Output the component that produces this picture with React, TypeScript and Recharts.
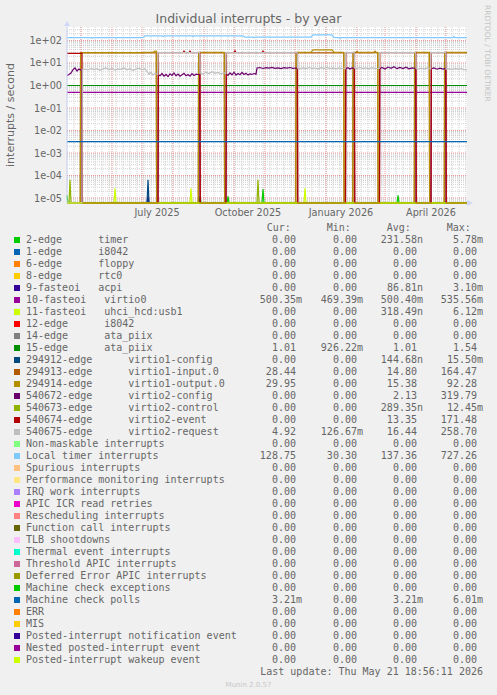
import React from "react";
import { LineChart, Line, XAxis, YAxis, CartesianGrid } from "recharts";

// y range of the log axis
const YMIN = 6e-6;
const YMAX = 398;

const yTicks = [1e2, 1e1, 1, 1e-1, 1e-2, 1e-3, 1e-4, 1e-5];
// x is in days from the left edge of the graph (1 px = 1 day)
const xTicks = [90, 181, 274, 364];
const xTickLabels = ["July 2025", "October 2025", "January 2026", "April 2026"];
const monthStarts = [14, 45, 75, 106, 137, 167, 198, 228, 259, 290, 318, 349, 379];

type Pt = [number, number];

const timerSpikes: Pt[] = [[0, 1.3e-5], [1, 0], [132, 0], [133, 1.2e-5], [134, 0], [160, 0], [161, 1.2e-5], [162, 0], [195, 0], [196, 2.5e-5], [197, 0], [330, 0], [331, 1.3e-5], [332, 0], [400, 0]];
const acpiSpikes: Pt[] = [[0, 0], [80, 0], [81, 1.2e-5], [82, 0], [400, 0]];
const virtio0: Pt[] = [[0, 0.5], [400, 0.5]];
const usbSpikes: Pt[] = [[0, 0], [47, 0], [48, 2.7e-5], [49, 0], [123, 0], [124, 2.7e-5], [125, 0], [237, 0], [238, 2.7e-5], [239, 0], [400, 0]];
const ataPiix: Pt[] = [[0, 1.0], [400, 1.0]];
const virtio1Config: Pt[] = [[0, 0], [80, 0], [81, 6.5e-5], [82, 0], [400, 0]];
const virtio1Input: Pt[] = [
  [0, 0], [13.3, 0], [13.6, 28], [89.3, 28], [89.6, 0], [131.3, 0], [131.6, 28], [157.3, 28], [157.6, 0],
  [228.8, 0], [229.1, 28], [276.8, 28], [277.1, 0], [285.8, 0], [286.1, 28], [289, 28], [290, 33], [291, 28],
  [307, 28], [308, 33], [309, 28], [310.8, 28], [311.1, 0], [347.3, 0], [347.6, 28], [362.3, 28], [362.6, 0],
  [377.3, 0], [377.6, 28], [400, 28],
];
const virtio1Output: Pt[] = [
  [0, 0], [13.3, 0], [13.6, 29], [76, 29], [78, 30], [86, 30], [88, 34], [89.3, 34], [89.6, 0],
  [131.3, 0], [131.6, 30], [157.3, 30], [157.6, 0], [228.8, 0], [229.1, 30], [244, 30], [246, 38], [265, 38],
  [267, 30], [276.8, 30], [277.1, 0], [285.8, 0], [286.1, 30], [310.8, 30], [311.1, 0], [347.3, 0], [347.6, 30],
  [362.3, 30], [362.6, 0], [377.3, 0], [377.6, 30], [400, 30],
];
const virtio2Config: Pt[] = [
  [0, 2.8], [2, 3.1], [4, 3.6], [6, 5.1], [8, 6.0], [10, 4.4], [12, 5.4], [14.7, 4.6], [15, 0],
  [91, 0], [91.3, 3.0], [93, 2.7], [95, 3.4], [97, 2.6], [99, 3.1], [101, 2.5], [103, 3.3], [105, 2.8], [107, 3.6],
  [109, 2.7], [111, 3.2], [113, 2.6], [115, 3.0], [117, 3.5], [119, 2.7], [121, 3.1], [123, 2.6], [125, 3.4],
  [127, 2.8], [129, 3.2], [132.7, 3.0], [133, 0],
  [159, 0], [159.3, 3.2], [161, 2.8], [163, 3.6], [165, 3.0], [167, 3.9], [169, 2.9], [171, 3.4], [173, 3.0],
  [175, 3.8], [177, 3.1], [179, 3.5], [181, 2.9], [183, 3.3], [185, 3.1], [187, 3.4], [189, 3.2], [190, 6.0],
  [193, 6.3], [196, 5.7], [199, 6.2], [202, 5.9], [205, 6.4], [208, 5.8], [211, 6.1], [214, 5.6], [217, 6.2],
  [220, 5.9], [223, 6.3], [226, 5.8], [229, 6.0], [230.3, 5.9], [230.6, 0],
  [278.5, 0], [278.8, 5.6], [281, 6.2], [283, 5.4], [285, 6.0], [287.3, 5.7], [287.6, 0],
  [312.5, 0], [312.8, 5.5], [315, 6.3], [318, 5.4], [321, 6.6], [324, 5.8], [327, 6.8], [330, 5.6], [333, 6.4],
  [336, 5.7], [339, 6.5], [342, 5.5], [345, 6.1], [348.7, 5.7], [349, 0],
  [364, 0], [364.3, 5.6], [367, 6.1], [370, 5.3], [373, 5.9], [376, 5.4], [378.7, 5.8], [379, 0], [400, 0],
];
const controlSpikes: Pt[] = [[0, 0], [2, 0], [3, 6.5e-5], [4, 0], [190, 0], [191, 6.5e-5], [192, 0], [400, 0]];
const virtio2Event: Pt[] = [
  [0, 27], [15, 27], [15.3, 0], [91, 0], [91.3, 29], [116, 29], [117, 34], [118, 29], [122, 29], [123, 34],
  [124, 29], [133, 29], [133.3, 0], [159, 0], [159.3, 29], [167, 29], [168, 35], [169, 29], [195, 29],
  [196, 34], [197, 29], [230.5, 29], [230.8, 0], [278.5, 0], [278.8, 29], [287.5, 29], [287.8, 0],
  [312.5, 0], [312.8, 29], [349, 29], [349.3, 0], [364, 0], [364.3, 29], [379, 29], [379.3, 0], [400, 0],
];
const virtio2Request: Pt[] = [
  [0, 0], [15, 0], [15.3, 5.0], [18, 5.4], [21, 4.9], [24, 5.8], [27, 5.1], [30, 5.6], [33, 4.7], [36, 5.5],
  [39, 6.1], [42, 5.0], [45, 5.7], [48, 4.8], [51, 5.5], [54, 5.2], [57, 6.0], [60, 5.0], [63, 5.6], [66, 4.6],
  [69, 5.4], [72, 5.9], [75, 5.0], [78, 5.6], [80, 4.2], [82, 3.2], [84, 3.8], [86, 2.9], [88, 3.5],
  [90.8, 3.1], [91.1, 29], [132.8, 29], [133.1, 3.6], [136, 3.2], [139, 3.9], [142, 3.4], [145, 4.1],
  [148, 3.5], [151, 3.8], [154, 3.3], [157, 3.6], [158.8, 3.4], [159.1, 29], [230.3, 29], [230.6, 5.8],
  [233, 5.5], [236, 6.1], [239, 5.6], [242, 6.3], [245, 5.7], [248, 6.0], [251, 5.4], [254, 6.2], [257, 5.8],
  [260, 6.4], [263, 5.6], [266, 6.0], [269, 5.5], [272, 6.1], [275, 5.7], [278.3, 5.6], [278.6, 29],
  [287.3, 29], [287.6, 6.0], [290, 5.8], [293, 6.3], [296, 5.6], [299, 6.0], [302, 5.5], [305, 6.2],
  [308, 5.7], [312.3, 5.8], [312.6, 29], [348.8, 29], [349.1, 5.6], [351, 5.3], [354, 5.9], [357, 5.4],
  [360, 6.0], [363.8, 5.5], [364.1, 29], [378.8, 29], [379.1, 5.3], [382, 5.6], [385, 5.1], [388, 5.8],
  [391, 5.2], [394, 5.7], [397, 5.0], [400, 4.9],
];
const localTimer: Pt[] = [
  [0, 133], [24, 133], [25, 126], [26, 133], [48, 133], [49, 128], [50, 133], [76, 133], [78, 160], [95, 160],
  [96, 150], [97, 160], [125, 160], [126, 153], [127, 160], [176, 160], [178, 140], [186, 140], [187, 132],
  [188, 140], [244, 140], [246, 178], [265, 178], [267, 133], [272, 133], [273, 126], [274, 133], [386, 133],
  [387, 150], [388, 133], [400, 133],
];
const mcePolls: Pt[] = [[0, 0.00321], [400, 0.00321]];
const wakeup: Pt[] = [[0, 0], [400, 0]];

// drawn in legend order
const plotted: [string, Pt[]][] = [
  ["#00CC00", timerSpikes],
  ["#330099", acpiSpikes],
  ["#990099", virtio0],
  ["#CCFF00", usbSpikes],
  ["#008F00", ataPiix],
  ["#00487D", virtio1Config],
  ["#B35A00", virtio1Input],
  ["#B38F00", virtio1Output],
  ["#6B006B", virtio2Config],
  ["#8FB300", controlSpikes],
  ["#B30000", virtio2Event],
  ["#BEBEBE", virtio2Request],
  ["#80C9FF", localTimer],
  ["#0066B3", mcePolls],
  ["#CCFF00", wakeup],
];

const legendLabels = [
  "2-edge      timer", "1-edge      i8042", "6-edge      floppy", "8-edge      rtc0",
  "9-fasteoi   acpi", "10-fasteoi   virtio0", "11-fasteoi   uhci_hcd:usb1", "12-edge      i8042",
  "14-edge      ata_piix", "15-edge      ata_piix", "294912-edge      virtio1-config",
  "294913-edge      virtio1-input.0", "294914-edge      virtio1-output.0", "540672-edge      virtio2-config",
  "540673-edge      virtio2-control", "540674-edge      virtio2-event", "540675-edge      virtio2-request",
  "Non-maskable interrupts", "Local timer interrupts", "Spurious interrupts",
  "Performance monitoring interrupts", "IRQ work interrupts", "APIC ICR read retries",
  "Rescheduling interrupts", "Function call interrupts", "TLB shootdowns", "Thermal event interrupts",
  "Threshold APIC interrupts", "Deferred Error APIC interrupts", "Machine check exceptions",
  "Machine check polls", "ERR", "MIS", "Posted-interrupt notification event",
  "Nested posted-interrupt event", "Posted-interrupt wakeup event",
];
const legendColors = [
  "#00CC00", "#0066B3", "#FF8000", "#FFCC00", "#330099", "#990099", "#CCFF00", "#FF0000", "#808080",
  "#008F00", "#00487D", "#B35A00", "#B38F00", "#6B006B", "#8FB300", "#B30000", "#BEBEBE", "#80FF80",
  "#80C9FF", "#FFC080", "#FFE680", "#AA80FF", "#EE00CC", "#FF8080", "#666600", "#FFBFFF", "#00FFCC",
  "#CC6699", "#999900", "#00CC00", "#0066B3", "#FF8000", "#FFCC00", "#330099", "#990099", "#CCFF00",
];
const Z = "0.00";
const curVals = [Z, Z, Z, Z, Z, "500.35m", Z, Z, Z, "1.01", Z, "28.44", "29.95", Z, Z, Z, "4.92", Z, "128.75", Z, Z, Z, Z, Z, Z, Z, Z, Z, Z, Z, "3.21m", Z, Z, Z, Z, Z];
const minVals = [Z, Z, Z, Z, Z, "469.39m", Z, Z, Z, "926.22m", Z, Z, Z, Z, Z, Z, "126.67m", Z, "30.30", Z, Z, Z, Z, Z, Z, Z, Z, Z, Z, Z, Z, Z, Z, Z, Z, Z];
const avgVals = ["231.58n", Z, Z, Z, "86.81n", "500.40m", "318.49n", Z, Z, "1.01", "144.68n", "14.80", "15.38", "2.13", "289.35n", "13.35", "16.44", Z, "137.36", Z, Z, Z, Z, Z, Z, Z, Z, Z, Z, Z, "3.21m", Z, Z, Z, Z, Z];
const maxVals = ["5.78m", Z, Z, Z, "3.10m", "535.56m", "6.12m", Z, Z, "1.54", "15.50m", "164.47", "92.28", "319.79", "12.45m", "171.48", "258.70", Z, "727.26", Z, Z, Z, Z, Z, Z, Z, Z, Z, Z, Z, "6.01m", Z, Z, Z, Z, Z];

const FONT = "#666666";
const SANS = "'DejaVu Sans', sans-serif";
const MONO = "'DejaVu Sans Mono', monospace";
const CH = 6.02; // mono char width at 10px

const minorY: number[] = [];
for (let e = -6; e <= 2; e++) for (let m = 2; m <= 9; m++) {
  const v = m * Math.pow(10, e);
  if (v > YMIN && v < YMAX) minorY.push(v);
}
const minorX: number[] = [];
for (let d = 0; d <= 400; d += 7) minorX.push(d);

// one table keyed by day; each series only fills the days it has
const table = (() => {
  const rows = new Map<number, Record<string, number>>();
  plotted.forEach(([, pts], i) => {
    pts.forEach(([d, v]) => {
      const row = rows.get(d) ?? { d };
      row[`s${i}`] = v > 0 ? v : YMIN;
      rows.set(d, row);
    });
  });
  return Array.from(rows.values()).sort((a, b) => a.d - b.d);
})();

const fmtExp = (v: number) => {
  const e = Math.round(Math.log10(v));
  return `1e${e < 0 ? "-" : "+"}${String(Math.abs(e)).padStart(2, "0")}`;
};
const pre = (s: string) => s.replace(/ /g, "\u00A0");

function Stat({ value, right, y }: { value: string; right: number; y: number }) {
  const hasSuffix = /[a-zA-Z]$/.test(value);
  return (
    <text x={hasSuffix ? right : right - CH} y={y} textAnchor="end">
      {value}
    </text>
  );
}

export default function App() {
  const cols = [302, 363, 423, 483];
  return (
    <div style={{ position: "absolute", left: 0, top: 0, width: 497, height: 695, background: "#f0f0f0" }}>
      <div style={{ position: "absolute", left: 0, top: 0 }}>
        <LineChart width={497} height={230} data={table} margin={{ top: 27, right: 30, bottom: 7, left: 7 }}>
          <CartesianGrid fill="#ffffff" stroke="#d0d0d0" strokeDasharray="1 1" horizontalValues={minorY} verticalValues={minorX} />
          <CartesianGrid fill="none" stroke="#eb9595" strokeDasharray="1 1" horizontalValues={yTicks} verticalValues={monthStarts} />
          <XAxis
            type="number"
            dataKey="d"
            domain={[0, 400]}
            ticks={xTicks}
            height={20}
            axisLine={false}
            tickLine={false}
            tickSize={0}
            tickMargin={0}
            interval={0}
            tick={(p: any) => (
              <text x={p.x} y={p.y} dy={13} textAnchor="middle" fill={FONT} fontSize={9.7} fontFamily={SANS}>
                {xTickLabels[xTicks.indexOf(p.payload.value)]}
              </text>
            )}
          />
          <YAxis
            type="number"
            scale="log"
            domain={[YMIN, YMAX]}
            ticks={yTicks}
            width={60}
            axisLine={{ stroke: "#CFD6F8" }}
            tickLine={false}
            tickSize={0}
            tickMargin={5}
            interval={0}
            tick={(p: any) => (
              <text x={p.x} y={p.y} dy={3.5} textAnchor="end" fill={FONT} fontSize={9.7} fontFamily={SANS}>
                {fmtExp(p.payload.value)}
              </text>
            )}
          />
          {plotted.map(([color], i) => (
            <Line
              key={i}
              dataKey={`s${i}`}
              type="linear"
              stroke={color}
              strokeWidth={1.2}
              connectNulls
              dot={false}
              activeDot={false}
              isAnimationActive={false}
            />
          ))}
        </LineChart>
      </div>
      <svg width={497} height={695} style={{ position: "absolute", left: 0, top: 0, pointerEvents: "none" }}>
        <polygon points="64,26 70,26 67,21" fill="#CFD6F8" />
        <polygon points="467,200 467,206 473,203" fill="#CFD6F8" />
        <text x={248.5} y={23} textAnchor="middle" fill={FONT} fontSize={12.5} fontFamily={SANS}>
          Individual interrupts - by year
        </text>
        <text x={14} y={115} textAnchor="middle" fill={FONT} fontSize={11} fontFamily={SANS} transform="rotate(-90 14 115)">
          interrupts / second
        </text>
        <text x={485} y={5} fill="#c4c4c4" fontSize={7.5} fontFamily={SANS} transform="rotate(90 485 5)">
          RRDTOOL / TOBI OETIKER
        </text>
        <g fontFamily={MONO} fontSize={10} fill={FONT}>
          <text x={266.7} y={231}>Cur:</text>
          <text x={326.7} y={231}>Min:</text>
          <text x={386.7} y={231}>Avg:</text>
          <text x={446.7} y={231}>Max:</text>
          {legendLabels.map((label, i) => {
            const y = 243 + 12 * i;
            return (
              <g key={i}>
                <rect x={14} y={y - 6} width={6} height={6} fill={legendColors[i]} />
                <text x={26} y={y}>{pre(label)}</text>
                <Stat value={curVals[i]} right={cols[0]} y={y} />
                <Stat value={minVals[i]} right={cols[1]} y={y} />
                <Stat value={avgVals[i]} right={cols[2]} y={y} />
                <Stat value={maxVals[i]} right={cols[3]} y={y} />
              </g>
            );
          })}
          <text x={483} y={675} textAnchor="end">{pre("Last update: Thu May 21 18:56:11 2026")}</text>
        </g>
        <text x={248.5} y={687} textAnchor="middle" fill="#c7c7c7" fontSize={7} fontFamily={SANS}>
          Munin 2.0.57
        </text>
      </svg>
    </div>
  );
}
